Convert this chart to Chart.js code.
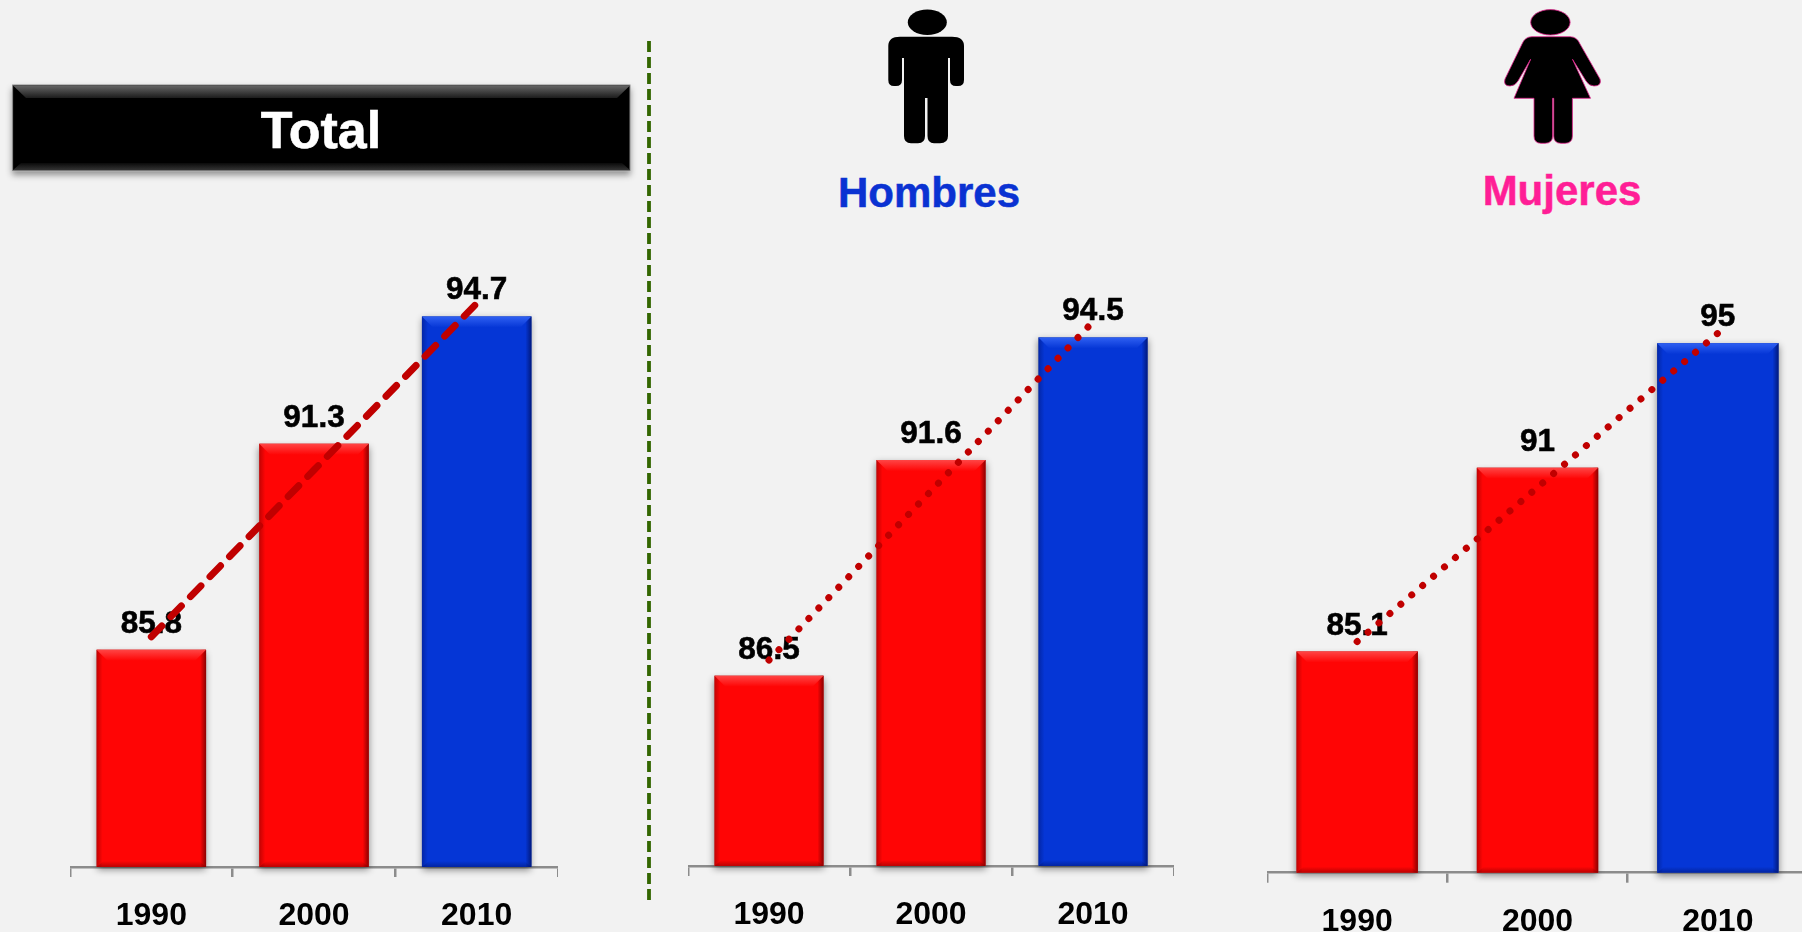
<!DOCTYPE html>
<html>
<head>
<meta charset="utf-8">
<title>Total, Hombres, Mujeres</title>
<script src="https://cdn.jsdelivr.net/npm/chart.js@4/dist/chart.umd.min.js"></script>
<style>
html, body { margin: 0; padding: 0; width: 1802px; height: 932px; overflow: hidden; background: #f2f2f2; }
body { position: relative; font-family: "Liberation Sans", Arial, sans-serif; font-weight: bold; }
canvas { position: absolute; top: 0; }
svg { position: absolute; left: 0; top: 0; }
.txt { position: absolute; white-space: nowrap; transform: translateX(-50%); line-height: 1; }
</style>
</head>
<body>
<svg width="1802" height="932" viewBox="0 0 1802 932">
	<defs>
		<linearGradient id="boxTop" x1="0" y1="0" x2="0" y2="1">
			<stop offset="0" stop-color="#666"/>
			<stop offset="1" stop-color="#1c1c1c"/>
		</linearGradient>
		<linearGradient id="boxBottom" x1="0" y1="0" x2="0" y2="1">
			<stop offset="0" stop-color="#0a0a0a"/>
			<stop offset="1" stop-color="#333"/>
		</linearGradient>
		<filter id="boxShadow" x="-5%" y="-20%" width="110%" height="150%">
			<feDropShadow dx="0" dy="4" stdDeviation="3" flood-color="#000" flood-opacity="0.4"/>
		</filter>
	</defs>
	<rect x="12.6" y="85" width="617.4" height="85.7" fill="#000" stroke="#8a8a8a" stroke-width="1" filter="url(#boxShadow)"/>
	<polygon points="13,85.5 630,85.5 617,98 26,98" fill="url(#boxTop)"/>
	<polygon points="13,170 630,170 622,163 21,163" fill="url(#boxBottom)"/>
	<line x1="649" y1="41" x2="649" y2="900" stroke="#336600" stroke-width="3.8" stroke-dasharray="11 5"/>

	<ellipse cx="927.3" cy="22.3" rx="19.5" ry="12.7" fill="#000"/>
	<path fill="#000" d="M900 36.7H952Q964 36.7 964 46V80Q964 86 958 86H956Q950 86 950 80V58H948V136Q948 143.3 940 143.3H934Q927.5 143.3 927.5 136V98H925V136Q925 143.3 918 143.3H911Q904 143.3 904 136V58H902V80Q902 86 896 86H894Q888.3 86 888.3 80V46Q888.3 36.7 900 36.7Z"/>

	<g fill="#000" stroke="#e0218a" stroke-width="0.8">
		<ellipse cx="1550.4" cy="22.3" rx="19.7" ry="12.7"/>
		<path d="M1532 36.7H1570Q1577 36.7 1580 44L1600 79Q1602 86 1594 86Q1589 86 1586 81L1572.5 59.3L1590.5 98.3H1572.4V136Q1572.4 143.3 1565 143.3H1561Q1553.7 143.3 1553.7 136V98.3H1552.6V136Q1552.6 143.3 1545 143.3H1541Q1534 143.3 1534 136V98.3H1514L1530.6 59.3L1518 81Q1515 86 1510 86Q1503 86 1505 79L1522 44Q1525 36.7 1532 36.7Z"/>
	</g>
</svg>
<div class="txt" style="left:321px;top:103.5px;font-size:52px;color:#fff;-webkit-text-stroke:0.6px #fff">Total</div>
<div class="txt" style="left:929px;top:172px;font-size:42px;color:#0a32d2;-webkit-text-stroke:0.5px #0a32d2">Hombres</div>
<div class="txt" style="left:1562px;top:170px;font-size:42px;color:#ff1e96;-webkit-text-stroke:0.5px #ff1e96">Mujeres</div>

<canvas id="totalChart" width="488" height="932" style="left:70px"></canvas>
<canvas id="hombresChart" width="486" height="932" style="left:688px"></canvas>
<canvas id="mujeresChart" width="541" height="932" style="left:1267px"></canvas>

<script>
var years = ["1990", "2000", "2010"];
var totalValues = [85.8, 91.3, 94.7];
var hombresValues = [86.5, 91.6, 94.5];
var mujeresValues = [85.1, 91, 95];
// trend lines
var totalTrend = [86.15, 90.6, 95.05];
var hombresTrend = [86.87, 90.87, 94.87];
var mujeresTrend = [85.42, 90.37, 95.32];
var barColors = ["#ff0505", "#ff0505", "#0536d6"];
var barTops = ["#ff4545", "#ff4545", "#2f60f2"];
var barEdges = ["rgba(120,0,0,", "rgba(120,0,0,", "rgba(0,20,110,"];

// shadow, bevel and value labels on top of what the library drew
var barLook = {
	id: 'barLook',
	beforeDatasetDraw: function(chart, args) {
		var ctx = chart.ctx;
		var b = chart.chartArea.bottom;
		if (args.meta.type === 'bar') {
			ctx.save();
			ctx.shadowColor = 'rgba(0,0,0,0.45)';
			ctx.shadowBlur = 7;
			ctx.shadowOffsetY = 3;
			ctx.fillStyle = '#888';
			args.meta.data.forEach(function(el) {
				ctx.fillRect(el.x - el.width / 2, el.y, el.width, b - el.y);
			});
			ctx.restore();
		} else {
			// labels go under the line
			var bars = chart.getDatasetMeta(0).data;
			ctx.save();
			ctx.font = 'bold 31.5px "Liberation Sans"';
			ctx.fillStyle = '#000';
			ctx.strokeStyle = '#000';
			ctx.lineWidth = 0.6;
			ctx.textAlign = 'center';
			ctx.textBaseline = 'alphabetic';
			bars.forEach(function(el, i) {
				var s = String(chart.data.datasets[0].data[i]);
				ctx.fillText(s, el.x, el.y - 17);
				ctx.strokeText(s, el.x, el.y - 17);
			});
			ctx.restore();
		}
	},
	afterDatasetDraw: function(chart, args) {
		if (args.meta.type !== 'bar') return;
		var ctx = chart.ctx;
		var b = chart.chartArea.bottom;
		args.meta.data.forEach(function(el, i) {
			var l = el.x - el.width / 2, r = el.x + el.width / 2, t = el.y, g;
			ctx.save();
			g = ctx.createLinearGradient(l, 0, l + 6, 0);
			g.addColorStop(0, barEdges[i] + '0.45)');
			g.addColorStop(1, barEdges[i] + '0)');
			ctx.fillStyle = g;
			ctx.fillRect(l, t, 6, b - t);
			g = ctx.createLinearGradient(r - 6, 0, r, 0);
			g.addColorStop(0, barEdges[i] + '0)');
			g.addColorStop(1, barEdges[i] + '0.85)');
			ctx.fillStyle = g;
			ctx.fillRect(r - 6, t, 6, b - t);
			// top bevel
			g = ctx.createLinearGradient(0, t, 0, t + 11);
			g.addColorStop(0, barTops[i]);
			g.addColorStop(1, barColors[i]);
			ctx.fillStyle = g;
			ctx.beginPath();
			ctx.moveTo(l, t);
			ctx.lineTo(r, t);
			ctx.lineTo(r - 11, t + 11);
			ctx.lineTo(l + 11, t + 11);
			ctx.closePath();
			ctx.fill();
			// bottom bevel
			g = ctx.createLinearGradient(0, b - 6, 0, b);
			g.addColorStop(0, barEdges[i] + '0)');
			g.addColorStop(1, barEdges[i] + '0.5)');
			ctx.fillStyle = g;
			ctx.beginPath();
			ctx.moveTo(l, b);
			ctx.lineTo(r, b);
			ctx.lineTo(r - 7, b - 6);
			ctx.lineTo(l + 7, b - 6);
			ctx.closePath();
			ctx.fill();
			ctx.restore();
		});
	}
};

function makePanel(id, values, trend, yMin, yMax, plotTop, baseline, dash, lineW, tickPad) {
	var ctx = document.getElementById(id).getContext('2d');
	return new Chart(ctx, {
		type: 'bar',
		data: {
			labels: years,
			datasets: [{
				data: values,
				backgroundColor: barColors,
				barPercentage: 0.673,
				categoryPercentage: 1,
				order: 2
			}, {
				type: 'line',
				data: trend,
				borderColor: '#c00000',
				borderWidth: lineW,
				borderDash: dash,
				borderCapStyle: 'round',
				pointRadius: 0,
				tension: 0,
				order: 1
			}]
		},
		options: {
			responsive: false,
			animation: false,
			layout: { padding: { top: plotTop, left: 0, right: 0, bottom: 0 } },
			plugins: { legend: { display: false }, tooltip: { enabled: false } },
			scales: {
				x: {
					afterFit: function(scale) { scale.height = 932 - baseline; },
					border: { color: '#8c8c8c', width: 2.5 },
					grid: { color: '#8c8c8c', lineWidth: 2.5, drawOnChartArea: false, drawTicks: true, tickLength: 10 },
					ticks: { color: '#000', padding: tickPad, maxRotation: 0, font: { family: '"Liberation Sans"', weight: 'bold', size: 32 } }
				},
				y: { display: false, min: yMin, max: yMax }
			}
		},
		plugins: [barLook]
	});
}

makePanel('totalChart', totalValues, totalTrend, 80, 96, 267.8, 867, [15, 13], 7, 20);
makePanel('hombresChart', hombresValues, hombresTrend, 82, 96, 274, 866, [0.01, 14.4], 7, 20);
makePanel('mujeresChart', mujeresValues, mujeresTrend, 78, 96, 312, 872.7, [0.01, 14.35], 7, 20);
</script>
</body>
</html>
